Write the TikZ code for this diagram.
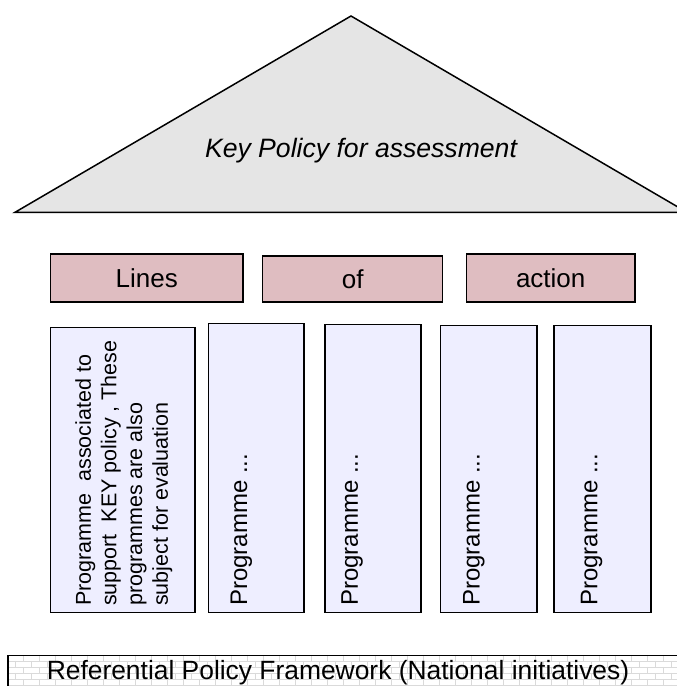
\documentclass[tikz,border=0pt]{standalone}
\usepackage{fontspec}
\setmainfont{Liberation Sans}
\usetikzlibrary{calc}

\definecolor{roofgray}{RGB}{229,229,229}
\definecolor{linepink}{RGB}{223,189,193}
\definecolor{proglilac}{RGB}{238,238,255}
\definecolor{brickgray}{RGB}{218,218,218}

\begin{document}
\begin{tikzpicture}[x=1pt, y=1pt,
    box/.style={draw=black, line width=1.2pt, rectangle, inner sep=0pt},
    actionbox/.style={box, fill=linepink, font=\fontsize{26}{31}\selectfont},
    progbox/.style={box, fill=proglilac},
    progtext/.style={rotate=90, anchor=west, inner sep=0pt, font=\fontsize{24}{29}\selectfont}]
    \useasboundingbox (0,0) rectangle (677,686);

    % roof with the key policy
    \draw[line width=1.5pt, fill=roofgray] (14.7,473.5) -- (351,670) -- (687.3,473.5) -- cycle;
    \node[anchor=base, inner sep=0pt, font=\itshape\fontsize{26.6}{32}\selectfont] (key) at (361,528) {Key Policy for assessment};

    % lines of action
    \node[actionbox, minimum width=192.7, minimum height=48] (lines) at (146.7,408) {Lines};
    \node[actionbox, minimum width=180, minimum height=46] (of) at (352.7,407) {of};
    \node[actionbox, minimum width=168.7, minimum height=48] (action) at (550.7,408) {action};

    % programme pillars
    \node[progbox, minimum width=144.7, minimum height=285] (p1) at (122.6,216) {};
    \node[progbox, minimum width=95.3, minimum height=289] (p2) at (256.3,218) {};
    \node[progbox, minimum width=96, minimum height=288] (p3) at (373,217.5) {};
    \node[progbox, minimum width=96.3, minimum height=287] (p4) at (488.8,217) {};
    \node[progbox, minimum width=97, minimum height=287] (p5) at (602.5,217) {};

    \node[rotate=90, anchor=north west, inner sep=0pt, align=left,
          font=\fontsize{21.5}{25.7}\selectfont] (p1text) at (75,80)
        {Programme\ \ associated to\\ support\ \ KEY policy , These\\ programmes are also\\ subject for evaluation};
    \node[progtext] (p2text) at ($(p2.south)+(-15,7)$) {Programme ...};
    \node[progtext] (p3text) at ($(p3.south)+(-21,7)$) {Programme ...};
    \node[progtext] (p4text) at ($(p4.south)+(-15,7)$) {Programme ...};
    \node[progtext] (p5text) at ($(p5.south)+(-11,7)$) {Programme ...};

    % referential framework, brick wall
    \begin{scope}
        \clip (7.3,-10) rectangle (690,31);
        \foreach \row in {0,...,7} {
            \draw[brickgray, line width=0.8pt] (0,31-6*\row) -- (690,31-6*\row);
            \pgfmathsetmacro\shift{mod(\row,2)*8}
            \foreach \col in {0,...,43}
                \draw[brickgray, line width=0.8pt] (7.3+\shift+16*\col,31-6*\row) -- ++(0,-6);
        }
    \end{scope}
    \node[box, anchor=north west, minimum width=700, minimum height=50] (frame) at (7.3,31) {};
    \node[anchor=base, inner sep=0pt, font=\fontsize{26.4}{31}\selectfont] (frametext) at (338,6.5)
        {Referential Policy Framework (National initiatives)};
\end{tikzpicture}
\end{document}
